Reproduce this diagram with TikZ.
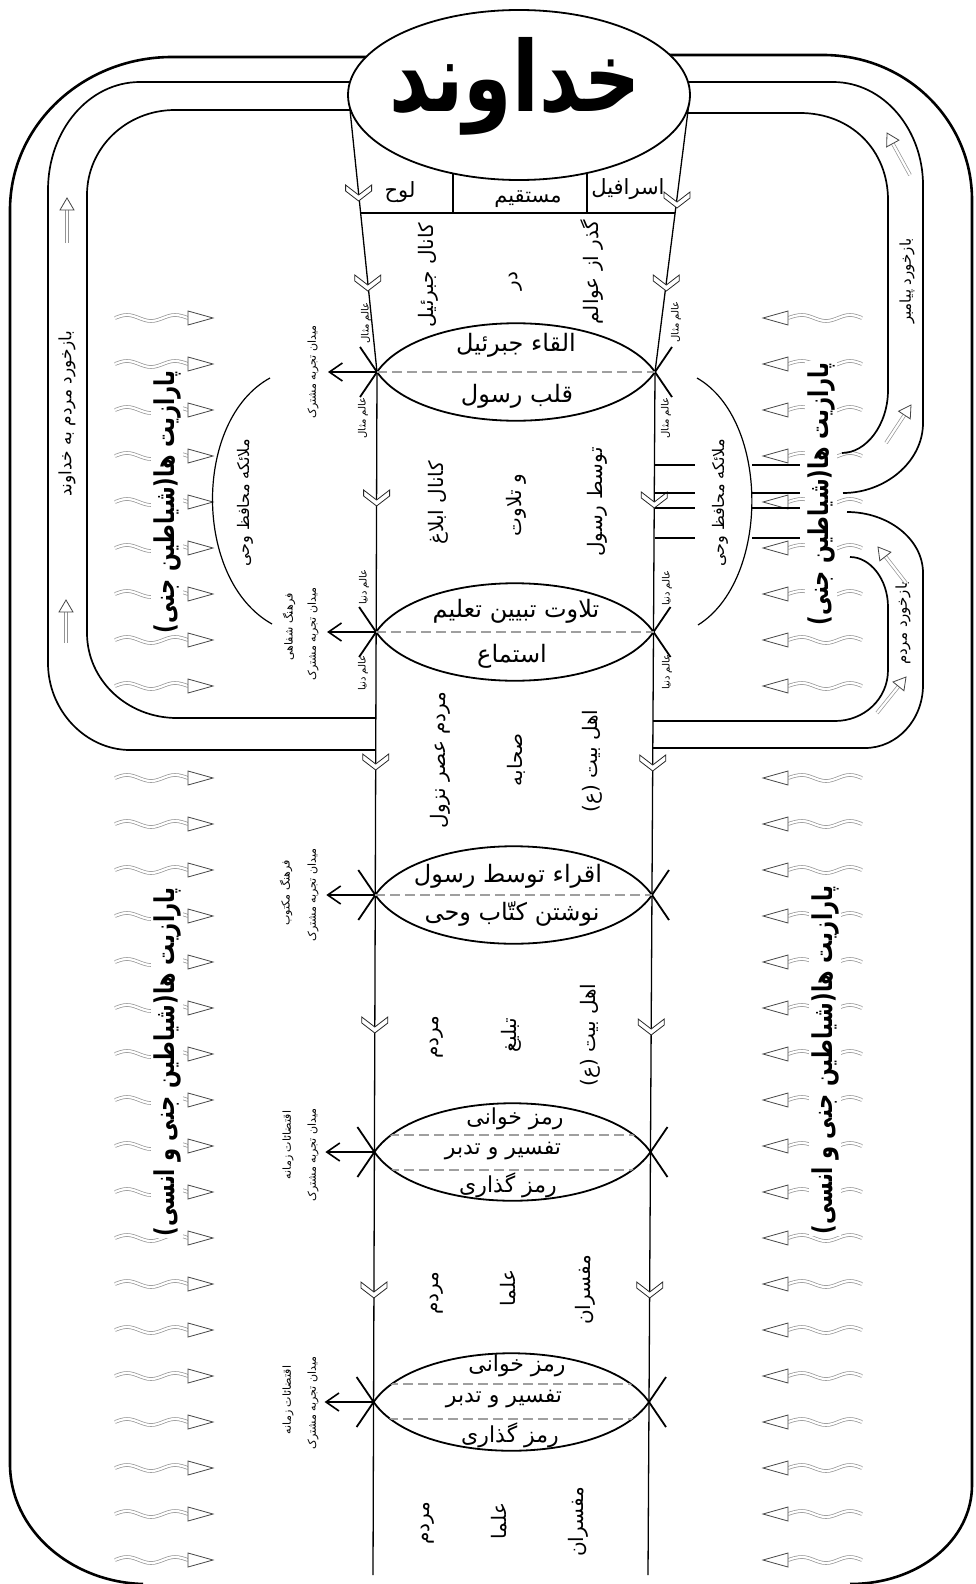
\documentclass[tikz,border=0pt]{standalone}
\usepackage{fontspec}
\usetikzlibrary{calc,arrows.meta,shapes.geometric}
\TeXXeTstate=1
\newfontfamily\fa[Script=Arabic]{DejaVu Sans}
\newcommand\fs[1]{\fa\fontsize{#1}{#1}\selectfont}
\newcommand\R[1]{\beginR #1\endR}
\newcommand\Rtall[1]{\scalebox{1}[1.3]{\beginR #1\endR}}
\tikzset{
  outerln/.style={line width=2.6pt},
  bandln/.style={line width=1.7pt},
  chanln/.style={line width=1.3pt},
  lensln/.style={line width=1.8pt},
  midcut/.style={draw=gray!75, line width=1.3pt, dash pattern=on 10pt off 5pt},
  shaft/.style={draw=gray!85, double=white, double distance=2.2pt, line width=0.7pt},
  headst/.style={draw=gray!55!black, fill=white, line width=0.8pt},
  chev/.style={draw=black!85, fill=white, line width=0.8pt},
  vout/.style={-{Straight Barb[length=13pt,width=18pt,line width=1.6pt]}, line width=2.3pt},
  vtxt/.style={rotate=90, inner sep=1pt},
  bigtxt/.style={rotate=90, fill=white, inner sep=2pt, font=\fs{21}\bfseries},
  wavyR/.pic={
    \draw[shaft] (0,0) sin (12,-3) cos (24,0) sin (36,3) cos (48,0) sin (60,-3) cos (73,0);
    \draw[headst] (73,-7) -- (98,0) -- (73,7) -- cycle;},
  wavyL/.pic={
    \draw[shaft] (0,0) sin (-12,-3) cos (-24,0) sin (-36,3) cos (-48,0) sin (-60,-3) cos (-74,0);
    \draw[headst] (-74,-7) -- (-99,0) -- (-74,7) -- cycle;},
  chevron/.pic={
    \draw[chev] (-13,-8) -- (0,2) -- (13,-8) -- (13,-2) -- (0,8) -- (-13,-2) -- cycle;},
}
\newcommand\barrow[2]{%
  \coordinate (hb) at ($(#2)!12pt!(#1)$);
  \draw[shaft] (#1) -- (hb);
  \draw[headst] (#2) -- ($(hb)!7pt!90:(#2)$) -- ($(hb)!7pt!-90:(#2)$) -- cycle;}
\newcommand\lensshape[3]{%
  \draw[lensln] (#1-17,#3+25) -- (#1,#3) .. controls (#1+45,#3-65) and (#2-45,#3-65) .. (#2,#3) -- (#2+17,#3+25);
  \draw[lensln] (#1-17,#3-25) -- (#1,#3) .. controls (#1+45,#3+65) and (#2-45,#3+65) .. (#2,#3) -- (#2+17,#3-25);
  \coordinate (vl) at (#1,#3);
  \coordinate (vt) at (#1-49,#3);
  \draw[vout] (vl) -- (vt);}
\newcommand\lensclip[3]{\clip (#1,#3) .. controls (#1+45,#3-65) and (#2-45,#3-65) .. (#2,#3) .. controls (#2-45,#3+65) and (#1+45,#3+65) .. (#1,#3) -- cycle;}
\begin{document}
\begin{tikzpicture}[x=1pt,y=-1pt]
\useasboundingbox (0,0) rectangle (976,1584);
\fill[white] (0,0) rectangle (976,1584);

% ---------- wavy arrows (parasites)
\foreach \k in {0,...,8}{
  \pic at (115,{318+46*\k}) {wavyR};
  \pic at (862,{318+46*\k}) {wavyL};}
\foreach \k in {10,...,27}{
  \pic at (115,{318+46*\k}) {wavyR};
  \pic at (862,{318+46*\k}) {wavyL};}

% ---------- big parasite texts
\node[bigtxt] (parLU) at (167,502) {\Rtall{پارازیت ها(شیاطین جنی)}};
\node[bigtxt] (parRU) at (821,494) {\Rtall{پارازیت ها(شیاطین جنی)}};
\node[bigtxt] (parLD) at (167,1062) {\Rtall{پارازیت ها(شیاطین جنی و انسی)}};
\node[bigtxt] (parRD) at (825,1060) {\Rtall{پارازیت ها(شیاطین جنی و انسی)}};

% ---------- outer frame
\draw[outerln] (519,57) -- (172,57) .. controls (83,57) and (10,125) .. (10,210) -- (10,1464) .. controls (10,1529) and (70,1582) .. (143,1584);
\draw[outerln] (519,55) -- (823,55) .. controls (906,55) and (972,120) .. (972,200) -- (972,1485) .. controls (972,1540) and (919,1584) .. (850,1584);

% ---------- left feedback band
\draw[bandln] (519,82) -- (140,82) .. controls (89,82) and (48,130) .. (48,190) -- (48,663) .. controls (48,711) and (86,750) .. (130,750) -- (375.7,750);
\draw[bandln] (519,110) -- (175,110) .. controls (126,110) and (87,148) .. (87,195) -- (87,633) .. controls (87,680) and (127,718) .. (177,718) -- (375.8,718);

% ---------- right feedback bands
\draw[bandln] (519,82) -- (833,82) .. controls (884,82) and (923,130) .. (923,185) -- (923,423) .. controls (923,462) and (885,493) .. (843,493);
\draw[bandln] (519,113) -- (800,113) .. controls (851,113) and (888,150) .. (888,200) -- (888,390) .. controls (888,425) and (866,453) .. (842,453);
\draw[bandln] (847,512) .. controls (888,512) and (923,539) .. (923,573) -- (923,685) .. controls (923,720) and (897,748) .. (865,748) -- (652.8,748);
\draw[bandln] (850,557) .. controls (870,557) and (888,579) .. (888,607) -- (888,670) .. controls (888,699) and (864,721) .. (835,721) -- (653,721);

% ---------- channel
\draw[chanln] (349,100) -- (377,372) -- (373,1575);
\draw[chanln] (689,103) -- (655,372) -- (648,1575);
% box
\draw[chanln] (360.6,213) -- (675.3,213);
\draw[chanln] (453,140) -- (453,213);
\draw[chanln] (587,140) -- (587,213);

% ---------- God ellipse
\node[draw, ellipse, line width=1.8pt, fill=white, minimum width=342pt, minimum height=170pt, inner sep=0pt] (god) at (519,95) {};
\node[font=\fs{78}\bfseries] (godt) at (515,86) {\scalebox{1}[1.25]{\R{خداوند}}};
\node[font=\fs{21}] (lawh) at (400,192) {\R{لوح}};
\node[font=\fs{21}] (mostaqim) at (528,199) {\R{مستقیم}};
\node[font=\fs{21}] (esrafil) at (628,189) {\R{اسرافیل}};

% ---------- chevrons
\foreach \p in {(358.6,193),(367.8,283),(376.6,498),(375.7,762),(374.8,1025),(373.9,1290),
                (677,200),(666.3,283),(654.3,500),(652.7,763),(651.2,1027),(649.7,1290)}{
  \pic at \p {chevron};}

% ---------- lenses
\lensshape{377}{655}{372}
\draw[midcut] (377,372) -- (655,372);
\lensshape{376.1}{653.5}{632}
\draw[midcut] (376.1,632) -- (653.5,632);
\lensshape{375.3}{652}{895}
\draw[midcut] (375.3,895) -- (652,895);
\lensshape{374.4}{650.5}{1152}
\begin{scope}\lensclip{374.4}{650.5}{1152}
  \draw[midcut] (374,1135) -- (651,1135);
  \draw[midcut] (374,1170) -- (651,1170);
\end{scope}
\lensshape{373.6}{649}{1402}
\begin{scope}\lensclip{373.6}{649}{1402}
  \draw[midcut] (373,1384) -- (650,1384);
  \draw[midcut] (373,1419) -- (650,1419);
\end{scope}

% lens texts
\node[font=\fs{24}] (l1a) at (516,345) {\R{القاء جبرئیل}};
\node[font=\fs{24}] (l1b) at (517,396) {\R{قلب رسول}};
\node[font=\fs{24}] (l2a) at (516,611) {\R{تلاوت تبیین تعلیم}};
\node[font=\fs{24}] (l2b) at (512,656) {\R{استماع}};
\node[font=\fs{24}] (l3a) at (508,876) {\R{اقراء توسط رسول}};
\node[font=\fs{24}] (l3b) at (512,914) {\R{نوشتن کتّاب وحی}};
\node[font=\fs{22}] (l4a) at (515,1119) {\R{رمز خوانی}};
\node[font=\fs{22}] (l4b) at (503,1151) {\R{تفسیر و تدبر}};
\node[font=\fs{22}] (l4c) at (508,1185) {\R{رمز گذاری}};
\node[font=\fs{22}] (l5a) at (517,1366) {\R{رمز خوانی}};
\node[font=\fs{22}] (l5b) at (504,1399) {\R{تفسیر و تدبر}};
\node[font=\fs{22}] (l5c) at (510,1435) {\R{رمز گذاری}};

% world labels
\node[vtxt, font=\fs{10}] at (366,323) {\R{عالم مثال}};
\node[vtxt, font=\fs{10}] at (363,418) {\R{عالم مثال}};
\node[vtxt, font=\fs{10}] at (676,322) {\R{عالم مثال}};
\node[vtxt, font=\fs{10}] at (666,418) {\R{عالم مثال}};
\node[vtxt, font=\fs{10}] at (364,587) {\R{عالم دنیا}};
\node[vtxt, font=\fs{10}] at (363,673) {\R{عالم دنیا}};
\node[vtxt, font=\fs{10}] at (667,588) {\R{عالم دنیا}};
\node[vtxt, font=\fs{10}] at (667,672) {\R{عالم دنیا}};

% shared field labels
\node[vtxt, font=\fs{11}] at (313,372) {\R{میدان تجربه مشترک}};
\node[vtxt, font=\fs{11}] at (289,627) {\R{فرهنگ شفاهی}};
\node[vtxt, font=\fs{11}] at (313,634) {\R{میدان تجربه مشترک}};
\node[vtxt, font=\fs{11}] at (286,893) {\R{فرهنگ مکتوب}};
\node[vtxt, font=\fs{11}] at (313,895) {\R{میدان تجربه مشترک}};
\node[vtxt, font=\fs{11}] at (288,1145) {\R{اقتضائات زمانه}};
\node[vtxt, font=\fs{11}] at (313,1155) {\R{میدان تجربه مشترک}};
\node[vtxt, font=\fs{11}] at (288,1400) {\R{اقتضائات زمانه}};
\node[vtxt, font=\fs{11}] at (313,1403) {\R{میدان تجربه مشترک}};

% channel texts
\node[vtxt, font=\fs{20}] at (428,275) {\R{کانال جبرئیل}};
\node[vtxt, font=\fs{20}] at (516,281) {\R{در}};
\node[vtxt, font=\fs{20}] at (592,272) {\R{گذر از عوالم}};
\node[vtxt, font=\fs{20}] at (438,503) {\R{کانال ابلاغ}};
\node[vtxt, font=\fs{20}] at (516,505) {\R{و تلاوت}};
\node[vtxt, font=\fs{20}] at (597,502) {\R{توسط رسول}};
\node[vtxt, font=\fs{20}] at (440,760) {\R{مردم عصر نزول}};
\node[vtxt, font=\fs{20}] at (516,760) {\R{صحابه}};
\node[vtxt, font=\fs{20}] at (592,761) {\R{اهل بیت (ع)}};
\node[vtxt, font=\fs{20}] at (437,1037) {\R{مردم}};
\node[vtxt, font=\fs{20}] at (511,1035) {\R{تبلیغ}};
\node[vtxt, font=\fs{20}] at (590,1035) {\R{اهل بیت (ع)}};
\node[vtxt, font=\fs{20}] at (437,1293) {\R{مردم}};
\node[vtxt, font=\fs{20}] at (508,1288) {\R{علما}};
\node[vtxt, font=\fs{20}] at (585,1290) {\R{مفسران}};
\node[vtxt, font=\fs{20}] at (428,1523) {\R{مردم}};
\node[vtxt, font=\fs{20}] at (499,1521) {\R{علما}};
\node[vtxt, font=\fs{20}] at (578,1522) {\R{مفسران}};

% ---------- guardian angels arcs
\draw[line width=1.2pt] (270,378) .. controls (193,420) and (193,580) .. (272,624);
\draw[line width=1.2pt] (697,378) .. controls (770,420) and (770,580) .. (698,625);
\node[vtxt, font=\fs{16}] at (245,503) {\R{ملائکه محافظ وحی}};
\node[vtxt, font=\fs{16}] at (720,503) {\R{ملائکه محافظ وحی}};
\foreach \yy in {465,493,508,538}{
  \draw[chanln] (654.5,\yy) -- (695,\yy);
  \draw[chanln] (752,\yy) -- (800,\yy);}

% ---------- feedback texts and arrows
\node[vtxt, font=\fs{17}] at (67,414) {\R{بازخورد مردم به خداوند}};
\node[vtxt, font=\fs{15}] at (907,281) {\R{بازخورد پیامبر}};
\node[vtxt, font=\fs{15}] at (903,623) {\R{بازخورد مردم}};
\barrow{67,243}{67,198}
\barrow{66,643}{66,600}
\barrow{910,175}{887,133}
\barrow{886,443}{911,405}
\barrow{906,583}{878,547}
\barrow{877,713}{906,677}
\end{tikzpicture}
\end{document}
